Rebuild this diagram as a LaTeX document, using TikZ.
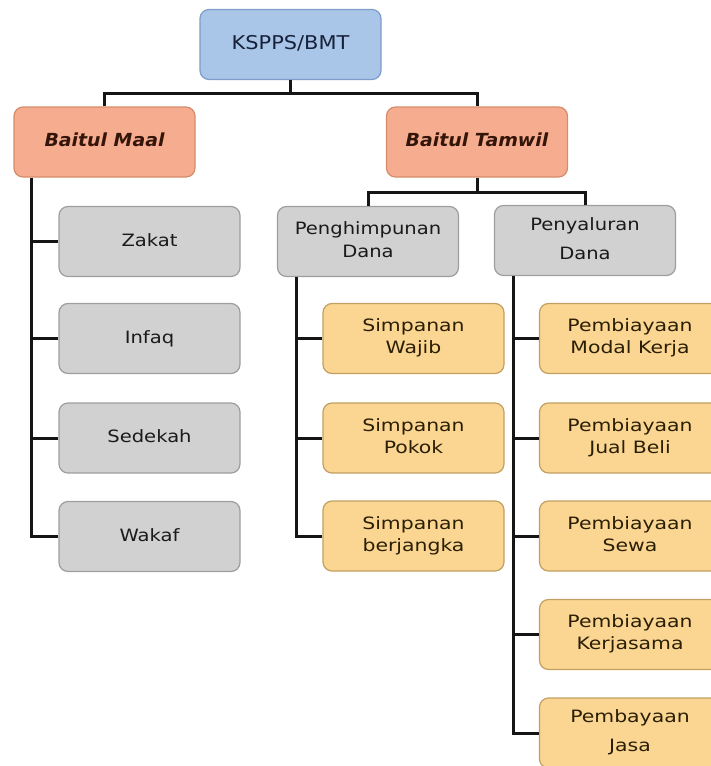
\documentclass[tikz,border=0pt]{standalone}
\usepackage{fontspec}
\setmainfont{DejaVu Sans}
\usepackage{graphicx}

\definecolor{headfill}{HTML}{A9C5E7}
\definecolor{headline}{HTML}{7F9DC8}
\definecolor{headtext}{HTML}{17223A}
\definecolor{unitfill}{HTML}{F6AC8E}
\definecolor{unitline}{HTML}{D58C6C}
\definecolor{unittext}{HTML}{331509}
\definecolor{groupfill}{HTML}{D1D1D1}
\definecolor{groupline}{HTML}{9E9E9E}
\definecolor{grouptext}{HTML}{1A1A1A}
\definecolor{itemfill}{HTML}{FBD592}
\definecolor{itemline}{HTML}{C2A062}
\definecolor{itemtext}{HTML}{2A1F05}
\definecolor{linkcol}{HTML}{151515}

\newcommand\wtext[2]{\scalebox{#1}[1]{\begin{tabular}{@{}c@{}}#2\end{tabular}}}

\begin{document}
\begin{tikzpicture}[
x=1pt,
y=-1pt,
box/.style={
  draw,
  line width=1.2pt,
  rounded corners=9pt,
  minimum width=181pt,
  minimum height=70pt,
  inner sep=0pt
  },
head/.style={
  box,
  fill=headfill,
  draw=headline,
  text=headtext,
  font=\fontsize{19}{23}\selectfont
  },
unit/.style={
  box,
  fill=unitfill,
  draw=unitline,
  text=unittext,
  font=\fontsize{18}{22}\bfseries\itshape\selectfont
  },
group/.style={
  box,
  fill=groupfill,
  draw=groupline,
  text=grouptext,
  font=\fontsize{17}{23}\selectfont
  },
item/.style={
  box,
  fill=itemfill,
  draw=itemline,
  text=itemtext,
  font=\fontsize{17}{22}\selectfont
  },
link/.style={
  line width=3pt,
  draw=linkcol
  }
]

\useasboundingbox (0,0) rectangle (711,766);
\clip (0,0) rectangle (711,766);

\node[head] (bmt) at (290.5,44.5) {\wtext{1.1}{KSPPS/BMT}};
\node[unit] (maal) at (104.5,142) {\wtext{1.05}{Baitul Maal}};
\node[unit] (tamwil) at (477,142) {\wtext{1.05}{Baitul Tamwil}};
\node[group] (himpun) at (368,241.5) {\wtext{1.15}{Penghimpunan\\Dana}};
\node[group] (salur) at (585,240.5) {\wtext{1.15}{Penyaluran\\[6pt]Dana}};

\foreach \nm/\txt/\yy in {zakat/Zakat/241.5, infaq/Infaq/338.5, sedekah/Sedekah/438, wakaf/Wakaf/536.5}
  \node[group] (\nm) at (149.5,\yy) {\wtext{1.15}{\txt}};
\foreach \nm/\txt/\yy in {wajib/Wajib/338.5, pokok/Pokok/438, jangka/berjangka/536}
  \node[item] (\nm) at (413.5,\yy) {\wtext{1.2}{Simpanan\\\txt}};
\foreach \nm/\txt/\yy in {modal/Modal Kerja/338.5, jualbeli/Jual Beli/438, sewa/Sewa/536, kerjasama/Kerjasama/634.5}
  \node[item] (\nm) at (630,\yy) {\wtext{1.2}{Pembiayaan\\\txt}};
\node[item] (jasa) at (630,733) {\wtext{1.2}{Pembayaan\\[7pt]Jasa}};

% connectors
\coordinate (topbus) at (290.5,93);
\draw[link] (bmt.south) -- (topbus);
\draw[link] (maal.north) |- (topbus) -| (tamwil.north);

\coordinate (tamwilbus) at (477,192);
\draw[link] (tamwil.south) -- (tamwilbus);
\draw[link] (himpun.north) |- (tamwilbus) -| (salur.north);

\coordinate (maalspine) at ([xshift=18pt]maal.south west);
\draw[link] (maalspine) |- (wakaf.west);
\foreach \nm in {zakat,infaq,sedekah}
  \draw[link] (maalspine |- \nm.west) -- (\nm.west);

\coordinate (himpunspine) at ([xshift=19.5pt]himpun.south west);
\draw[link] (himpunspine) |- (jangka.west);
\foreach \nm in {wajib,pokok}
  \draw[link] (himpunspine |- \nm.west) -- (\nm.west);

\coordinate (salurspine) at ([xshift=19.5pt]salur.south west);
\draw[link] (salurspine) |- (jasa.west);
\foreach \nm in {modal,jualbeli,sewa,kerjasama}
  \draw[link] (salurspine |- \nm.west) -- (\nm.west);
\end{tikzpicture}
\end{document}
